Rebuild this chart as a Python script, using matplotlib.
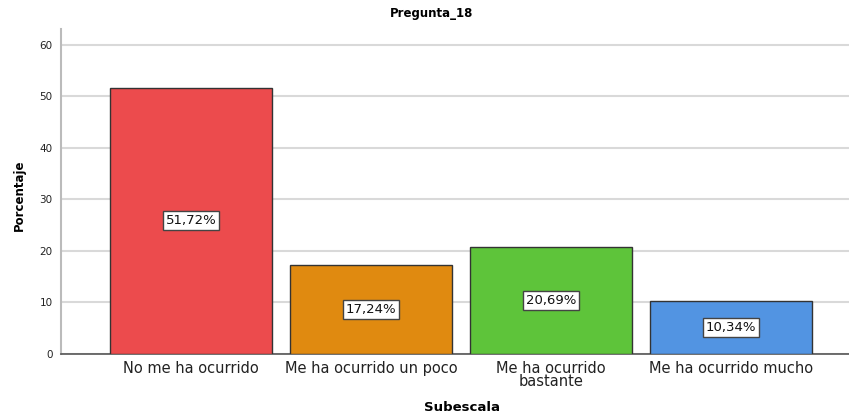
import matplotlib
matplotlib.use("Agg")
import matplotlib.pyplot as plt
import numpy as np

plt.rcParams['font.family'] = ['DejaVu Sans']

categories = ["No me ha ocurrido", "Me ha ocurrido un poco", "Me ha ocurrido\nbastante", "Me ha ocurrido mucho"]
values = [51.72, 17.24, 20.69, 10.34]
labels = ["51,72%", "17,24%", "20,69%", "10,34%"]
colors = ["#EC4B4D", "#E08A10", "#5EC43A", "#5294E2"]
yticks = [0, 10, 20, 30, 40, 50, 60]

fig = plt.figure(figsize=(8.49, 4.15), dpi=100)
ax = fig.add_axes([61/849, 61/415, 1 - 61/849, (354-29)/415])

x = np.arange(len(categories))
ax.bar(x, values, width=0.9, color=colors, edgecolor="#333333", linewidth=1.0, zorder=3)
for xi, v, lab in zip(x, values, labels):
    ax.text(xi, v/2, lab, ha="center", va="center", fontsize=9.5, color="#111111", zorder=4,
            bbox=dict(boxstyle="square,pad=0.22", facecolor="white", edgecolor="#444444", linewidth=1.0))

ax.set_xlim(-0.722, 3.656)
ax.set_ylim(0, 63.1)
ax.set_yticks(yticks)
ax.set_yticklabels([str(t) for t in yticks], fontsize=7.5, color="#222222")
ax.set_xticks(x)
ax.set_xticklabels(categories, fontsize=10.5, color="#222222", linespacing=0.85)
ax.tick_params(axis="x", length=0, pad=5)
ax.tick_params(axis="y", length=0, pad=6)
ax.grid(axis="y", color="#D9D9D9", linewidth=1.5, zorder=0)
ax.set_axisbelow(True)
for s in ["top", "right"]:
    ax.spines[s].set_visible(False)
ax.spines["left"].set_color("#bbbbbb")
ax.spines["left"].set_linewidth(1.5)
ax.spines["bottom"].set_color("#555555")
ax.spines["bottom"].set_linewidth(1.2)

fig.text(432/849, 1 - 14/415, "Pregunta_18", ha="center", va="center", fontsize=8.5, fontweight="bold")
fig.text(19/849, 1 - 195/415, "Porcentaje", ha="center", va="center", rotation=90, fontsize=8.5, fontweight="bold")
fig.text(462/849, 1 - 407/415, "Subescala", ha="center", va="center", fontsize=9.5, fontweight="bold")

fig.savefig("out.png", dpi=100)
